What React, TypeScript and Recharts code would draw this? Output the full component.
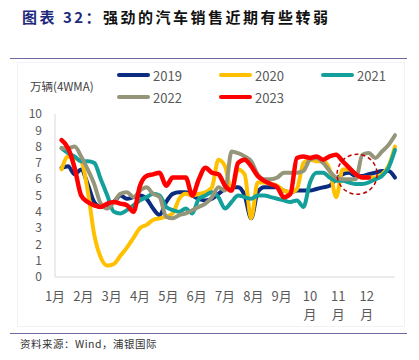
import React from 'react';
import { LineChart, Line, XAxis, YAxis, ReferenceDot } from 'recharts';

// week index 1..52 (4-week moving average)
const weeks = Array.from({ length: 52 }, (_, i) => i + 1);

const s2019 = [6.7, 6.8, 6.3, 6.6, 5.7, 4.6, 4.3, 4.4, 4.6, 5.0, 4.8, 4.9, 5.0, 4.8, 4.2, 3.8, 4.6, 5.1, 5.2, 5.2,
  5.0, 4.8, 4.7, 4.8, 5.1, 5.4, 5.5, 5.5, 5.0, 3.6, 5.2, 5.5, 5.5, 5.5, 5.3, 5.2, 5.3, 5.3, 5.3, 5.4,
  5.5, 5.6, 6.0, 6.3, 6.4, 6.2, 6.2, 6.3, 6.4, 6.5, 6.5, 6.1];
const s2020 = [6.6, 7.4, 7.3, 7.1, 5.3, 2.6, 1.2, 0.7, 0.8, 1.3, 1.8, 2.4, 3.0, 3.2, 3.5, 3.6, 3.7, 3.9, 4.8, 5.1,
  5.0, 5.1, 5.2, 5.5, 7.2, 6.8, 5.3, 6.6, 6.3, 3.6, 5.8, 5.8, 5.7, 5.6, 5.3, 5.2, 5.4, 7.0, 7.2, 7.1,
  7.1, 6.6, 4.9, 6.6, 6.6, 6.3, 6.1, 6.1, 6.1, 6.3, 6.8, 8.0];
const s2021 = [7.9, 7.6, 7.4, 7.1, 7.1, 7.0, 6.0, 5.0, 4.0, 3.9, 4.1, 4.4, 4.7, 4.9, 5.1, 5.0, 4.3, 4.1, 4.0, 4.2,
  3.9, 4.8, 5.0, 5.2, 4.9, 4.2, 4.6, 5.0, 4.9, 4.8, 5.0, 5.0, 4.9, 4.8, 4.7, 4.6, 4.7, 4.3, 5.8, 6.4,
  6.4, 6.1, 5.9, 5.9, 5.8, 5.7, 5.7, 5.8, 6.0, 6.2, 6.7, 7.8];
const s2022 = [7.9, 7.9, 8.0, 7.4, 6.6, 5.7, 4.5, 4.2, 4.6, 5.1, 5.2, 4.9, 5.3, 5.5, 5.1, 4.9, 3.7, 3.6, 3.8, 3.9,
  4.1, 4.3, 4.5, 4.9, 5.5, 5.3, 7.7, 7.6, 7.4, 7.1, 6.3, 6.0, 6.0, 6.1, 6.4, 6.4, 6.4, 6.5, 7.2, 7.3,
  7.0, 6.5, 6.1, 6.0, 6.0, 6.0, 7.5, 7.6, 7.3, 7.7, 8.1, 8.7];
const s2023 = [8.4, 7.9, 6.7, 5.0, 4.6, 4.4, 4.3, 4.5, 4.6, 4.5, 4.4, 4.0, 5.6, 6.2, 6.3, 6.4, 5.6, 6.1, 6.1, 6.1,
  5.0, 6.0, 6.7, 6.4, 6.3, 5.6, 5.3, 7.0, 7.2, 6.8, 6.2, 5.9, 5.7, 5.5, 4.9, 5.1, 7.3, 7.4, 7.3, 7.4,
  7.2, 7.4, 7.5, 7.1, 6.7, 6.3, 6.1, 6.1];

const seriesNames = ['2019', '2020', '2021', '2022', '2023'];
const seriesColors = ['#0B2C80', '#FFC000', '#13A09B', '#95957A', '#FF0000'];

const monthTicks = [0, 4.33, 8.67, 13, 17.33, 21.67, 26, 30.33, 34.67, 39, 43.33, 47.67];
const monthLabels = ['1月', '2月', '3月', '4月', '5月', '6月', '7月', '8月', '9月', '10月', '11月', '12月'];
const yTicks = [0, 1, 2, 3, 4, 5, 6, 7, 8, 9, 10];

const data = weeks.map((w, i) => ({
  w,
  '2019': s2019[i],
  '2020': s2020[i],
  '2021': s2021[i],
  '2022': s2022[i],
  '2023': s2023[i] ?? null,
}));

const FONT = '"Noto Sans CJK SC", "Noto Sans", sans-serif';

const MonthTick = (props: any) => {
  const { x, y, payload } = props;
  const idx = monthTicks.findIndex((t) => Math.abs(t - payload.value) < 0.01);
  const label = monthLabels[idx] || '';
  if (label.length > 2) {
    return (
      <g>
        <text x={x} y={y + 24} textAnchor="middle" fill="#595959" fontSize={13} fontFamily={FONT}>
          {label.slice(0, 2)}
        </text>
        <text x={x} y={y + 42} textAnchor="middle" fill="#595959" fontSize={13} fontFamily={FONT}>
          {label.slice(2)}
        </text>
      </g>
    );
  }
  return (
    <text x={x} y={y + 24} textAnchor="middle" fill="#595959" fontSize={13} fontFamily={FONT}>
      {label}
    </text>
  );
};

const LegendGrid = () => (
  <div
    style={{
      position: 'absolute', left: 117, top: 66,
      display: 'grid', gridTemplateColumns: '102px 102px 90px', rowGap: 4,
    }}
  >
    {seriesNames.map((name, i) => (
      <div key={name} style={{ display: 'flex', alignItems: 'center', height: 18 }}>
        <span style={{ display: 'inline-block', width: 33, height: 4, borderRadius: 2, background: seriesColors[i], marginRight: 3 }} />
        <span style={{ fontSize: 13, color: '#595959', fontFamily: FONT }}>{name}</span>
      </div>
    ))}
  </div>
);

export default function App() {
  return (
    <div style={{ position: 'absolute', left: 0, top: 0, width: 419, height: 360, background: '#fff', fontFamily: FONT }}>
      <div style={{ position: 'absolute', left: 22, top: 6, fontSize: 15, fontWeight: 700, letterSpacing: 2.5, whiteSpace: 'nowrap' }}>
        <span style={{ color: '#1F2A7C' }}>图表 32：</span>
        <span style={{ color: '#111' }}>强劲的汽车销售近期有些转弱</span>
      </div>
      <div style={{ position: 'absolute', left: 10, top: 58, width: 397, height: 1, background: '#6E6A9E' }} />
      <div style={{ position: 'absolute', left: 17, top: 62, width: 388, height: 265, border: '1px solid #F2F2F2', boxSizing: 'border-box' }} />
      <div style={{ position: 'absolute', left: 30, top: 78, fontSize: 11.5, color: '#404040', whiteSpace: 'nowrap' }}>
        万辆(4WMA)
      </div>
      <LegendGrid />
      <div style={{ position: 'absolute', left: 0, top: 0 }}>
        <LineChart width={419} height={360} data={data} margin={{ top: 114, right: 24, bottom: 43, left: 15 }}>
          <XAxis
            dataKey="w"
            type="number"
            domain={[0, 52]}
            ticks={monthTicks}
            interval={0}
            tick={<MonthTick />}
            tickLine={false}
            tickSize={0}
            tickMargin={0}
            axisLine={{ stroke: '#D9D9D9' }}
            height={40}
          />
          <YAxis
            domain={[0, 10]}
            ticks={yTicks}
            interval={0}
            tickLine={false}
            axisLine={{ stroke: '#D9D9D9' }}
            tick={{ fill: '#595959', fontSize: 12, fontFamily: FONT }}
            tickMargin={7}
            width={40}
          />
          {seriesNames.map((name, i) => (
            <Line
              key={name}
              type="monotone"
              dataKey={name}
              name={name}
              stroke={seriesColors[i]}
              strokeWidth={i === 4 ? 4.5 : 4}
              strokeLinecap="round"
              strokeLinejoin="round"
              dot={false}
              activeDot={false}
              isAnimationActive={false}
            />
          ))}
          <ReferenceDot
            x={46.2}
            y={6.3}
            r={20}
            fill="none"
            stroke="#C00000"
            strokeWidth={1.5}
            strokeDasharray="4 3"
            ifOverflow="visible"
          />
        </LineChart>
      </div>
      <div style={{ position: 'absolute', left: 10, top: 333, width: 397, height: 1, background: '#6E6A9E' }} />
      <div style={{ position: 'absolute', left: 20, top: 336, fontSize: 10.5, color: '#333', letterSpacing: 0.5, whiteSpace: 'nowrap' }}>
        资料来源：Wind，浦银国际
      </div>
    </div>
  );
}
